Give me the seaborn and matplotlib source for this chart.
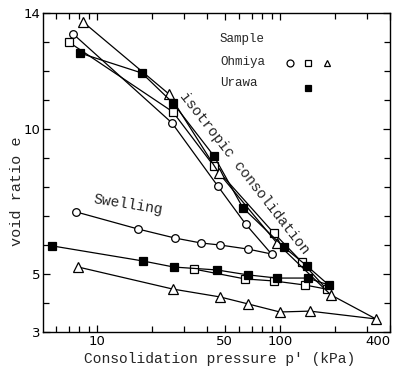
import matplotlib
matplotlib.use("Agg")
import matplotlib.pyplot as plt
import seaborn as sns
import pandas as pd
from matplotlib.ticker import FixedLocator, NullFormatter

# ---- data (pressure kPa, void ratio e) : consolidation then swelling ----
ohmiya_circle_p = [7.4, 25.7, 45.8, 65.0, 90.0, 66.8, 47.0, 37.0, 26.7, 16.8, 7.7]
ohmiya_circle_e = [13.28, 10.21, 8.03, 6.72, 5.69, 5.86, 6.00, 6.07, 6.24, 6.55, 7.14]

ohmiya_square_p = [7.0, 26.0, 43.6, 92.7, 132.0, 180.0, 137.0, 92.7, 64.4, 33.9]
ohmiya_square_e = [13.00, 10.59, 8.72, 6.41, 5.41, 4.48, 4.62, 4.76, 4.83, 5.17]

ohmiya_triangle_p = [8.4, 24.7, 46.4, 96.3, 190.0, 335.0, 146.0, 100.0, 66.8, 47.0, 26.0, 7.9]
ohmiya_triangle_e = [13.69, 11.21, 8.48, 6.07, 4.28, 3.45, 3.72, 3.69, 3.97, 4.21, 4.48, 5.24]

urawa_p = [8.07, 17.6, 26.0, 43.6, 62.8, 105.0, 140.5, 185.0, 142.0, 96.3, 66.8, 45.2, 26.3, 17.8, 5.68]
urawa_e = [12.62, 11.93, 10.90, 9.07, 7.28, 5.93, 5.28, 4.62, 4.86, 4.86, 4.97, 5.14, 5.24, 5.45, 5.97]

x_major = [10, 50, 100, 400]
x_major_labels = ["10", "50", "100", "400"]
x_minor = [6, 7, 8, 9, 20, 30, 40, 60, 70, 80, 90, 200, 300]
y_major = [3, 5, 10, 14]
y_minor = [4, 6, 7, 8, 9, 11, 12, 13]

sns.set_theme(style="ticks")
plt.rcParams["font.family"] = ["DejaVu Sans"]
mono = ["Liberation Mono", "DejaVu Sans Mono"]

fig = plt.figure(figsize=(3.93, 3.73), dpi=100)
ax = fig.add_axes([43/393, 1-332/373, 347/393, 319/373])

series = [
    (ohmiya_circle_p, ohmiya_circle_e, "o", "white", 5.5),
    (ohmiya_square_p, ohmiya_square_e, "s", "white", 5.5),
    (ohmiya_triangle_p, ohmiya_triangle_e, "^", "white", 6.5),
    (urawa_p, urawa_e, "s", "black", 5.5),
]
for p, e, m, fc, ms in series:
    df = pd.DataFrame({"p": p, "e": e})
    sns.lineplot(data=df, x="p", y="e", ax=ax, sort=False, estimator=None,
                 color="black", linewidth=0.9, marker=m, markersize=ms,
                 markerfacecolor=fc, markeredgecolor="black", markeredgewidth=0.9)

ax.set_xscale("log")
ax.set_xlim(5.07, 400)
ax.set_ylim(3, 14)

ax.xaxis.set_major_locator(FixedLocator(x_major))
ax.set_xticklabels(x_major_labels)
ax.xaxis.set_minor_locator(FixedLocator(x_minor))
ax.xaxis.set_minor_formatter(NullFormatter())
ax.set_yticks(y_major)
ax.set_yticklabels([str(v) for v in y_major])
ax.yaxis.set_minor_locator(FixedLocator(y_minor))

ax.tick_params(which="both", direction="in", top=True, right=True,
               width=0.9, colors="black", labelsize=9.5, pad=2)
ax.tick_params(which="major", length=5)
ax.tick_params(which="minor", length=4)
ax.get_xticklabels()[-1].set_ha("right")
for s in ax.spines.values():
    s.set_linewidth(1.0)
    s.set_color("black")

ax.set_xlabel("Consolidation pressure p' (kPa)", family=mono, fontsize=10.5)
ax.xaxis.set_label_coords(0.51, -0.062)
ax.set_ylabel("void ratio e", family=mono, fontsize=11)
ax.yaxis.set_label_coords(-0.055, 0.44)

ax.text(0.582, 0.50, "isotropic consolidation", transform=ax.transAxes,
        rotation=-52, rotation_mode="anchor", ha="center", va="center",
        family=mono, fontsize=10.5)
ax.text(0.245, 0.398, "Swelling", transform=ax.transAxes,
        rotation=-9, rotation_mode="anchor", ha="center", va="center",
        family=mono, fontsize=10.5)

# legend block
ax.text(0.510, 0.918, "Sample", transform=ax.transAxes, ha="left", va="center",
        family=mono, fontsize=9)
ax.text(0.510, 0.846, "Ohmiya", transform=ax.transAxes, ha="left", va="center",
        family=mono, fontsize=9)
ax.text(0.510, 0.781, "Urawa", transform=ax.transAxes, ha="left", va="center",
        family=mono, fontsize=9)
leg = [(0.712, 0.843, "o", "white"), (0.764, 0.843, "s", "white"),
       (0.818, 0.843, "^", "white"), (0.764, 0.765, "s", "black")]
for lx, ly, m, fc in leg:
    ax.plot([lx], [ly], marker=m, markersize=5, markerfacecolor=fc,
            markeredgecolor="black", markeredgewidth=0.9, transform=ax.transAxes,
            linestyle="none")

fig.savefig("out.png", dpi=100)
